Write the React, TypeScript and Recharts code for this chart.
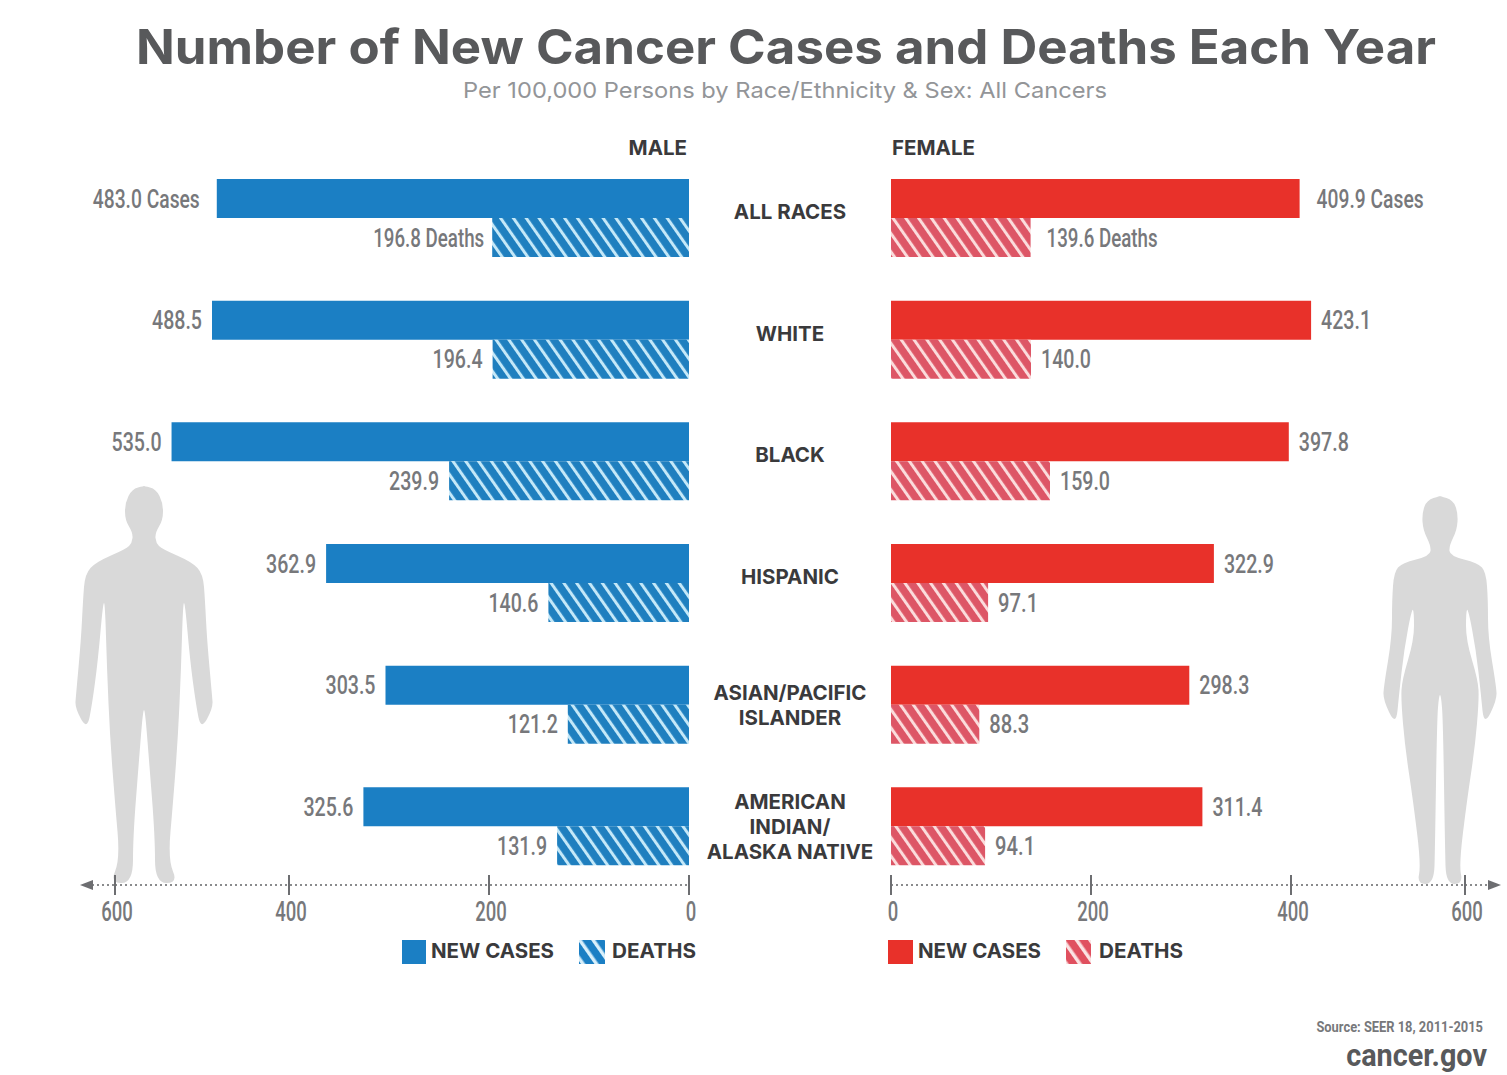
import { BarChart, Bar, XAxis, YAxis, LabelList } from 'recharts';

const categories = ['ALL RACES', 'WHITE', 'BLACK', 'HISPANIC', 'ASIAN/PACIFIC\nISLANDER', 'AMERICAN\nINDIAN/\nALASKA NATIVE'];
const maleCases = [483.0, 488.5, 535.0, 362.9, 303.5, 325.6];
const maleDeaths = [196.8, 196.4, 239.9, 140.6, 121.2, 131.9];
const femaleCases = [409.9, 423.1, 397.8, 322.9, 298.3, 311.4];
const femaleDeaths = [139.6, 140.0, 159.0, 97.1, 88.3, 94.1];
const axisTicks = [0, 200, 400, 600];

const maleData = categories.map((name, i) => ({ name, cases: maleCases[i], deaths: maleDeaths[i] }));
const femaleData = categories.map((name, i) => ({ name, cases: femaleCases[i], deaths: femaleDeaths[i] }));

const NARROW = 'Roboto, sans-serif';
const HEAD = 'Inter, "Open Sans", sans-serif';
const LABEL_GRAY = '#77787b';

// the printed axis squeezes its last interval (400-600 is drawn shorter)
function squeezedScale(domain = [0, 600], range = [0, 1]) {
  const pos = (v: number) => (v <= 400 ? v / 574 : (400 + ((v - 400) * 174) / 200) / 574);
  const s: any = (v: number) => range[0] + pos(v) * (range[1] - range[0]);
  s.domain = (d?: number[]) => (d ? ((domain = d), s) : domain);
  s.range = (r?: number[]) => (r ? ((range = r), s) : range);
  s.copy = () => squeezedScale(domain, range);
  s.ticks = () => axisTicks;
  return s;
}

function AxisTick({ x, y, payload, shift }: any) {
  const text = String(payload.value);
  return (
    <g>
      <line x1={x} x2={x} y1={y - 10} y2={y + 10} stroke="#6d6e71" strokeWidth={2} />
      <text
        x={x + shift}
        y={y + 36}
        textAnchor="middle"
        fontFamily={NARROW}
        fontWeight={500}
        fontSize={27}
        fill={LABEL_GRAY}
        textLength={text.length * 10.5}
        lengthAdjust="spacingAndGlyphs"
      >
        {text}
      </text>
    </g>
  );
}

function CategoryTick({ x, y, payload }: any) {
  const lines = String(payload.value).split('\n');
  const top = lines.length === 1 ? y - 6 : y - ((lines.length - 1) * 25) / 2 + 1;
  return (
    <text textAnchor="middle" fontFamily={HEAD} fontWeight={700} fontSize={20.5} fill="#3a3a3c">
      {lines.map((line, i) => (
        <tspan key={line} x={x + 101} y={top + i * 25 + 7}>
          {line}
        </tspan>
      ))}
    </text>
  );
}

function valueLabel(side: 'left' | 'right', suffix: string, suffixWidth: number, firstGap: number) {
  return ({ x, y, width, height, value, index }: any) => {
    const a = Math.min(x, x + width);
    const b = Math.max(x, x + width);
    const gap = index === 0 ? firstGap : 10;
    const num = Number(value).toFixed(1);
    const text = index === 0 ? `${num} ${suffix}` : num;
    const len = num.length * 10 + (index === 0 ? suffixWidth : 0);
    return (
      <text
        x={side === 'left' ? a - gap : b + gap}
        y={y + height / 2 + 9}
        textAnchor={side === 'left' ? 'end' : 'start'}
        fontFamily={NARROW}
        fontWeight={500}
        fontSize={26}
        fill={LABEL_GRAY}
        textLength={len}
        lengthAdjust="spacingAndGlyphs"
      >
        {text}
      </text>
    );
  };
}

function Hatch({ id, bg, line, size, bar }: { id: string; bg: string; line: string; size: number; bar: number }) {
  return (
    <pattern id={id} patternUnits="userSpaceOnUse" width={size} height={size} patternTransform="rotate(-35)">
      <rect width={size} height={size} fill={bg} />
      <rect width={bar} height={size} fill={line} />
    </pattern>
  );
}

// closed smooth outline through the midpoints of a mirrored half figure
function figurePath(cx: number, half: number[][]) {
  const pts = [...half, ...[...half].reverse().map(([x, y]) => [2 * cx - x, y])];
  const mid = (p: number[], q: number[]) => `${(p[0] + q[0]) / 2},${(p[1] + q[1]) / 2}`;
  let d = `M${mid(pts[pts.length - 1], pts[0])}`;
  pts.forEach((p, i) => {
    d += ` Q${p[0]},${p[1]} ${mid(p, pts[(i + 1) % pts.length])}`;
  });
  return d + 'Z';
}

const maleOutline = [
  [144, 486], [156, 489], [163, 503], [163, 520], [155, 533], [156, 543], [162, 549], [192, 562], [203, 574], [205, 600],
  [207, 640], [212, 695], [213, 708], [201, 730], [196, 705], [190, 660], [185, 603], [183, 603], [181, 670], [178, 737],
  [173, 803], [168, 860], [178, 883], [155, 883], [155, 837], [149, 760], [145, 710],
];
const femaleOutline = [
  [1440, 496], [1453, 500], [1458, 513], [1457, 530], [1449, 546], [1450, 556], [1478, 563], [1486, 572], [1488, 600],
  [1488, 637], [1496, 685], [1497, 700], [1484, 726], [1481, 695], [1476, 650], [1468, 608], [1466, 612], [1466, 640],
  [1478, 680], [1479, 700], [1475, 747], [1467, 800], [1459, 865], [1463, 884], [1446, 884], [1445, 847], [1443, 720],
  [1441, 695],
];

function Backdrop() {
  return (
    <svg width={1507} height={1075} style={{ position: 'absolute', left: 0, top: 0 }}>
      <defs>
        <Hatch id="legendBlue" bg="#1b7fc4" line="#d8effa" size={11} bar={3.5} />
        <Hatch id="legendRed" bg="#e0505f" line="#fbe3e3" size={11} bar={3.5} />
      </defs>
      <path d={figurePath(144, maleOutline)} fill="#d9d9d9" />
      <path d={figurePath(1440, femaleOutline)} fill="#d9d9d9" />

      <text x={786} y={64} textAnchor="middle" fontFamily={HEAD} fontWeight={700} fontSize={48} fill="#58595b" textLength={1300} lengthAdjust="spacingAndGlyphs">
        Number of New Cancer Cases and Deaths Each Year
      </text>
      <text x={785} y={98} textAnchor="middle" fontFamily={HEAD} fontSize={22} fill="#939598" textLength={644} lengthAdjust="spacingAndGlyphs">
        Per 100,000 Persons by Race/Ethnicity &amp; Sex: All Cancers
      </text>
      <text x={687} y={155} textAnchor="end" fontFamily={HEAD} fontWeight={700} fontSize={20.5} fill="#3a3a3c">MALE</text>
      <text x={892} y={155} fontFamily={HEAD} fontWeight={700} fontSize={20.5} fill="#3a3a3c">FEMALE</text>

      <line x1={92} x2={115} y1={885} y2={885} stroke="#8a8b8d" strokeWidth={2} strokeDasharray="2 3" />
      <polygon points="80,885 93,880 93,890" fill="#6d6e71" />
      <line x1={1465} x2={1488} y1={885} y2={885} stroke="#8a8b8d" strokeWidth={2} strokeDasharray="2 3" />
      <polygon points="1501,885 1488,880 1488,890" fill="#6d6e71" />

      <rect x={402} y={940} width={24} height={24} fill="#1b7fc4" />
      <text x={431} y={958} fontFamily={HEAD} fontWeight={700} fontSize={20} fill="#3a3a3c" textLength={123} lengthAdjust="spacingAndGlyphs">NEW CASES</text>
      <rect x={579} y={940} width={26} height={24} fill="url(#legendBlue)" />
      <text x={612} y={958} fontFamily={HEAD} fontWeight={700} fontSize={20} fill="#3a3a3c" textLength={84} lengthAdjust="spacingAndGlyphs">DEATHS</text>
      <rect x={888} y={940} width={25} height={24} fill="#e8312a" />
      <text x={918} y={958} fontFamily={HEAD} fontWeight={700} fontSize={20} fill="#3a3a3c" textLength={123} lengthAdjust="spacingAndGlyphs">NEW CASES</text>
      <rect x={1066} y={940} width={25} height={24} fill="url(#legendRed)" />
      <text x={1099} y={958} fontFamily={HEAD} fontWeight={700} fontSize={20} fill="#3a3a3c" textLength={84} lengthAdjust="spacingAndGlyphs">DEATHS</text>

      <g transform="translate(1483 1032) scale(0.92 1)">
        <text textAnchor="end" fontFamily={NARROW} fontWeight={700} fontSize={14} fill={LABEL_GRAY}>Source: SEER 18, 2011-2015</text>
      </g>
      <g transform="translate(1487 1066) scale(0.9 1)">
        <text textAnchor="end" fontFamily={NARROW} fontWeight={700} fontSize={32} fill="#58595b">cancer.gov</text>
      </g>
    </svg>
  );
}

const PLOT_TOP = 157;
const CHART_H = 950;
const AXIS_H = 65;
const FEMALE_LEFT = 841;

export default function App() {
  return (
    <div style={{ position: 'absolute', left: 0, top: 0, width: 1507, height: 1075, overflow: 'hidden', background: '#fff' }}>
      <Backdrop />
      <div style={{ position: 'absolute', left: 0, top: 0 }}>
        <BarChart
          width={891}
          height={CHART_H}
          data={maleData}
          layout="vertical"
          barSize={39}
          barGap={0}
          margin={{ top: PLOT_TOP, left: 115, right: 0, bottom: 0 }}
        >
          <defs>
            <Hatch id="hatchBlue" bg="#1f7fbf" line="#c4e8f8" size={10.5} bar={3} />
          </defs>
          <XAxis
            type="number"
            reversed
            domain={[0, 600]}
            scale={squeezedScale() as any}
            ticks={axisTicks}
            interval={0}
            height={AXIS_H}
            tickSize={0}
            tickMargin={0}
            axisLine={{ stroke: '#8a8b8d', strokeWidth: 2, strokeDasharray: '2 3' }}
            tick={<AxisTick shift={2} />}
          />
          <YAxis
            type="category"
            dataKey="name"
            orientation="right"
            width={202}
            interval={0}
            padding={{ top: 0, bottom: -2 }}
            tickSize={0}
            tickMargin={0}
            axisLine={false}
            tickLine={false}
            tick={<CategoryTick />}
          />
          <Bar dataKey="cases" fill="#1b7fc4" isAnimationActive={false}>
            <LabelList dataKey="cases" content={valueLabel('left', 'Cases', 57, 17)} />
          </Bar>
          <Bar dataKey="deaths" fill="url(#hatchBlue)" isAnimationActive={false}>
            <LabelList dataKey="deaths" content={valueLabel('left', 'Deaths', 61, 8)} />
          </Bar>
        </BarChart>
      </div>
      <div style={{ position: 'absolute', left: FEMALE_LEFT, top: 0 }}>
        <BarChart
          width={1507 - FEMALE_LEFT}
          height={CHART_H}
          data={femaleData}
          layout="vertical"
          barSize={39}
          barGap={0}
          margin={{ top: PLOT_TOP, left: 891 - FEMALE_LEFT, right: 42, bottom: 0 }}
        >
          <defs>
            <Hatch id="hatchRed" bg="#dd5666" line="#fbdcdc" size={10.5} bar={3} />
          </defs>
          <XAxis
            type="number"
            domain={[0, 600]}
            scale={squeezedScale() as any}
            ticks={axisTicks}
            interval={0}
            height={AXIS_H}
            tickSize={0}
            tickMargin={0}
            axisLine={{ stroke: '#8a8b8d', strokeWidth: 2, strokeDasharray: '2 3' }}
            tick={<AxisTick shift={2} />}
          />
          <YAxis type="category" dataKey="name" hide interval={0} padding={{ top: 0, bottom: -2 }} />
          <Bar dataKey="cases" fill="#e8312a" isAnimationActive={false}>
            <LabelList dataKey="cases" content={valueLabel('right', 'Cases', 57, 17)} />
          </Bar>
          <Bar dataKey="deaths" fill="url(#hatchRed)" isAnimationActive={false}>
            <LabelList dataKey="deaths" content={valueLabel('right', 'Deaths', 61, 16)} />
          </Bar>
        </BarChart>
      </div>
    </div>
  );
}
